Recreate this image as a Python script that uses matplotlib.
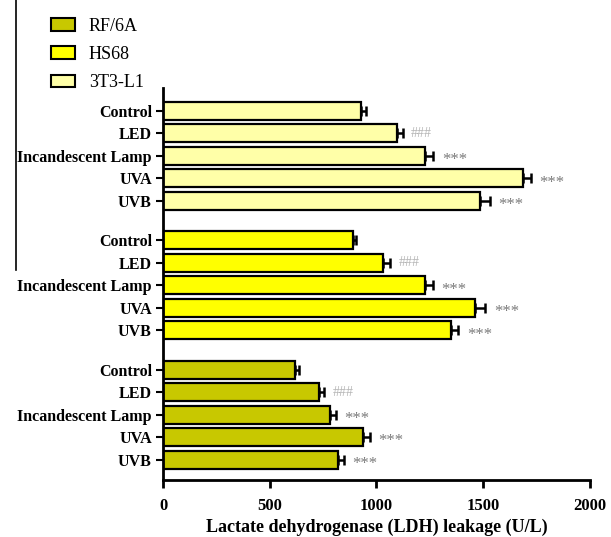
import numpy as np
import matplotlib.pyplot as plt
from matplotlib.patches import Patch
from matplotlib.lines import Line2D

plt.rcParams['font.family'] = ['Liberation Serif', 'DejaVu Serif']

treatments = ["Control", "LED", "Incandescent Lamp", "UVA", "UVB"]
cells = ["3T3-L1", "HS68", "RF/6A"]          # top to bottom
colors = {"RF/6A": "#c8c800", "HS68": "#ffff00", "3T3-L1": "#ffffa8"}

ldh = {
    "3T3-L1": [928, 1095, 1225, 1685, 1485],
    "HS68":   [888, 1030, 1225, 1462, 1350],
    "RF/6A":  [617, 730, 782, 938, 820],
}
sem = {
    "3T3-L1": [22, 28, 42, 40, 45],
    "HS68":   [18, 34, 40, 48, 34],
    "RF/6A":  [22, 24, 28, 30, 28],
}
marks = ["", "###", "***", "***", "***"]

fig = plt.figure(figsize=(6.11, 5.37), dpi=100)
ax = fig.add_axes([0.2668, 0.1061, 0.6988, 0.7301])

ypos, ylabels = [], []
for g, c in enumerate(cells):
    y = np.arange(5) + g * 5.75
    ax.barh(y, ldh[c], height=0.8, color=colors[c], edgecolor='black', linewidth=1.6, zorder=2)
    ax.errorbar(ldh[c], y, xerr=[np.zeros(5), sem[c]], fmt='none', ecolor='black',
                elinewidth=1.8, capsize=3.5, capthick=1.8, zorder=3)
    for yi, v, e, m in zip(y, ldh[c], sem[c], marks):
        if m == "###":
            ax.annotate(m, (v + e, yi), xytext=(6, 0), textcoords='offset points',
                        va='center', ha='left', fontsize=10, color='#b4b4b4')
        elif m:
            # serif asterisks sit high, nudge them down onto the bar centre
            ax.annotate(m, (v + e, yi), xytext=(6, -3), textcoords='offset points',
                        va='center', ha='left', fontsize=12, color='#7a7a7a')
    ypos.extend(y)
    ylabels.extend(treatments)

ax.set_yticks(ypos)
ax.set_yticklabels(ylabels, fontweight='bold', fontsize=11.5)
ax.set_ylim(16.4, -1.02)
ax.set_xlim(0, 2000)
ax.set_xticks([0, 500, 1000, 1500, 2000])
ax.set_xticklabels(['0', '500', '1000', '1500', '2000'], fontweight='bold', fontsize=12)
ax.set_xlabel("Lactate dehydrogenase (LDH) leakage (U/L)", fontweight='bold', fontsize=13, labelpad=3)

for s in ['top', 'right']:
    ax.spines[s].set_visible(False)
for s in ['left', 'bottom']:
    ax.spines[s].set_linewidth(2)
ax.tick_params(axis='x', length=6, width=2, pad=7)
ax.tick_params(axis='y', length=5, width=1.5, pad=3)

# legend in the top-left corner
handles = [Patch(facecolor=colors[c], edgecolor='black', linewidth=1.5) for c in ["RF/6A", "HS68", "3T3-L1"]]
fig.legend(handles, ["RF/6A", "HS68", "3T3-L1"], loc='upper left', bbox_to_anchor=(0.057, 0.997),
           frameon=False, fontsize=13, handlelength=1.3, handleheight=0.7,
           handletextpad=0.8, labelspacing=0.62)

# thin rule along the left edge
fig.add_artist(Line2D([0.027, 0.027], [1.0, 0.497], color='black', linewidth=1.2))

fig.savefig("out.png", dpi=100)
